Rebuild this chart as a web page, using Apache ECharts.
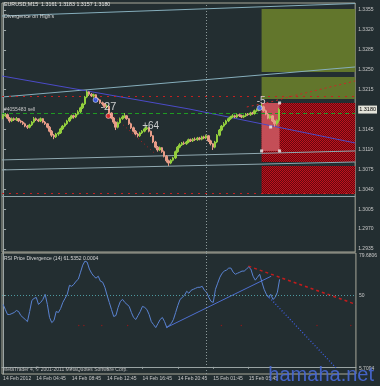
<!DOCTYPE html>
<html><head><meta charset="utf-8">
<script src="https://cdn.jsdelivr.net/npm/echarts@6/dist/echarts.min.js"></script>
<style>html,body{margin:0;padding:0;background:#232e31;}#c{width:380px;height:386px;}</style>
</head><body><div id="c"></div>
<script>
// ---------- DATA ----------
const opens=[1.3166,1.3169,1.3171,1.3165,1.3160,1.3164,1.3162,1.3164,1.3160,1.3158,
1.3155,1.3151,1.3149,1.3153,1.3158,1.3164,1.3162,1.3160,1.3164,1.3158,
1.3155,1.3149,1.3142,1.3135,1.3132,1.3137,1.3139,1.3146,1.3151,1.3155,
1.3160,1.3165,1.3169,1.3167,1.3172,1.3176,1.3183,1.3190,1.3202,1.3211,
1.3207,1.3204,1.3206,1.3199,1.3197,1.3192,1.3190,1.3185,1.3186,1.3174,
1.3165,1.3158,1.3149,1.3157,1.3164,1.3167,1.3169,1.3164,1.3155,1.3148,
1.3142,1.3137,1.3134,1.3139,1.3142,1.3146,1.3148,1.3142,1.3134,1.3123,
1.3114,1.3109,1.3113,1.3106,1.3098,1.3090,1.3086,1.3091,1.3095,1.3106,
1.3114,1.3118,1.3121,1.3120,1.3123,1.3127,1.3125,1.3128,1.3127,1.3130,
1.3128,1.3132,1.3130,1.3134,1.3125,1.3120,1.3114,1.3123,1.3135,1.3144,
1.3151,1.3155,1.3160,1.3164,1.3167,1.3169,1.3167,1.3171,1.3169,1.3167,
1.3169,1.3172,1.3171,1.3174,1.3173,1.3178,1.3179,1.3183,1.3185,1.3178,
1.3172,1.3165,1.3169,1.3160,1.3155,1.3161];
const closes=[1.3169,1.3171,1.3165,1.3160,1.3164,1.3162,1.3164,1.3160,1.3158,1.3155,
1.3151,1.3149,1.3153,1.3158,1.3164,1.3162,1.3160,1.3164,1.3158,1.3155,
1.3149,1.3142,1.3135,1.3132,1.3137,1.3139,1.3146,1.3151,1.3155,1.3160,
1.3165,1.3169,1.3167,1.3172,1.3176,1.3183,1.3190,1.3202,1.3211,1.3207,
1.3204,1.3206,1.3199,1.3197,1.3192,1.3190,1.3185,1.3186,1.3174,1.3165,
1.3158,1.3149,1.3157,1.3164,1.3167,1.3169,1.3164,1.3155,1.3148,1.3142,
1.3137,1.3134,1.3139,1.3142,1.3146,1.3148,1.3142,1.3134,1.3123,1.3114,
1.3109,1.3113,1.3106,1.3098,1.3090,1.3086,1.3091,1.3095,1.3106,1.3114,
1.3118,1.3121,1.3120,1.3123,1.3127,1.3125,1.3128,1.3127,1.3130,1.3128,
1.3132,1.3130,1.3134,1.3125,1.3120,1.3114,1.3123,1.3135,1.3144,1.3151,
1.3155,1.3160,1.3164,1.3167,1.3169,1.3167,1.3171,1.3169,1.3167,1.3169,
1.3172,1.3171,1.3174,1.3173,1.3178,1.3179,1.3183,1.3185,1.3178,1.3172,
1.3165,1.3169,1.3160,1.3155,1.3161,1.3180];
const highs=[1.3172,1.3174,1.3173,1.3167,1.3166,1.3166,1.3167,1.3165,1.3162,1.3160,
1.3157,1.3153,1.3155,1.3160,1.3167,1.3166,1.3164,1.3166,1.3165,1.3160,
1.3156,1.3151,1.3144,1.3137,1.3139,1.3141,1.3148,1.3153,1.3157,1.3162,
1.3167,1.3171,1.3171,1.3174,1.3179,1.3185,1.3192,1.3204,1.3214,1.3212,
1.3209,1.3208,1.3207,1.3201,1.3198,1.3194,1.3191,1.3189,1.3187,1.3175,
1.3167,1.3159,1.3159,1.3166,1.3170,1.3174,1.3170,1.3165,1.3157,1.3150,
1.3144,1.3139,1.3141,1.3144,1.3148,1.3151,1.3149,1.3143,1.3135,1.3125,
1.3116,1.3115,1.3114,1.3108,1.3100,1.3092,1.3093,1.3097,1.3108,1.3116,
1.3121,1.3123,1.3124,1.3125,1.3129,1.3129,1.3130,1.3131,1.3132,1.3132,
1.3134,1.3134,1.3136,1.3135,1.3127,1.3121,1.3125,1.3137,1.3146,1.3153,
1.3158,1.3162,1.3166,1.3169,1.3172,1.3171,1.3173,1.3173,1.3171,1.3171,
1.3174,1.3174,1.3176,1.3176,1.3180,1.3182,1.3186,1.3190,1.3187,1.3180,
1.3174,1.3171,1.3170,1.3162,1.3163,1.3183];
const lows=[1.3163,1.3167,1.3163,1.3157,1.3158,1.3160,1.3160,1.3158,1.3156,1.3153,
1.3149,1.3146,1.3147,1.3151,1.3156,1.3160,1.3158,1.3158,1.3156,1.3153,
1.3147,1.3140,1.3132,1.3128,1.3130,1.3134,1.3137,1.3144,1.3149,1.3153,
1.3158,1.3163,1.3164,1.3165,1.3170,1.3174,1.3181,1.3188,1.3200,1.3204,
1.3202,1.3201,1.3197,1.3194,1.3190,1.3187,1.3183,1.3182,1.3172,1.3163,
1.3155,1.3144,1.3147,1.3155,1.3162,1.3165,1.3162,1.3153,1.3146,1.3140,
1.3135,1.3131,1.3132,1.3137,1.3140,1.3144,1.3140,1.3132,1.3121,1.3112,
1.3106,1.3107,1.3104,1.3096,1.3087,1.3081,1.3084,1.3089,1.3093,1.3104,
1.3112,1.3116,1.3118,1.3118,1.3121,1.3123,1.3123,1.3125,1.3125,1.3126,
1.3126,1.3128,1.3128,1.3123,1.3117,1.3109,1.3112,1.3121,1.3133,1.3142,
1.3149,1.3153,1.3158,1.3162,1.3165,1.3165,1.3165,1.3167,1.3165,1.3165,
1.3167,1.3169,1.3169,1.3171,1.3171,1.3176,1.3177,1.3181,1.3176,1.3170,
1.3163,1.3163,1.3158,1.3150,1.3152,1.3157];
const rsi=[43.9,40.3,36.8,36.8,37.5,38.2,39.6,38.9,36.1,34.7,
33.3,31.8,38.9,46.7,48.1,48.8,43.9,45.3,47.4,51.0,
43.9,34.7,31.1,32.6,38.9,38.2,41.0,45.3,48.1,51.0,
57.3,56.6,58.0,60.2,61.6,66.5,71.5,74.3,73.6,68.7,
65.8,63.7,62.3,63.7,60.2,59.5,55.9,50.3,45.3,40.3,
35.4,36.1,41.8,46.0,47.4,45.3,43.9,42.5,38.2,34.7,
33.3,36.1,38.9,42.5,41.8,40.3,36.8,31.8,29.7,27.6,
30.4,33.3,34.7,31.8,27.6,29.0,30.4,33.3,38.2,43.2,
47.4,48.8,50.3,53.1,51.7,53.8,54.5,55.2,55.9,55.9,
56.6,53.8,52.4,48.8,46.0,45.3,54.5,58.8,63.0,65.8,
67.3,68.0,69.4,69.4,66.5,65.1,65.8,66.5,67.3,67.3,
68.7,70.1,68.7,63.7,60.9,63.0,65.1,59.5,54.5,51.0,
48.8,51.0,47.4,48.8,52.5,61.5];

const BARS=160;
const timeIdx=[0,15,31,47,63,79,95,111];
const timeLabels=['14 Feb 2012','14 Feb 04:45','14 Feb 08:45','14 Feb 12:45','14 Feb 16:45','14 Feb 20:45','15 Feb 01:45','15 Feb 05:45'];
const priceTicks=[1.3355,1.3320,1.3285,1.3250,1.3215,1.3180,1.3145,1.3110,1.3075,1.3040,1.3005,1.2970,1.2935];
const lastPrice=1.3180;
const rsiTickLabels=['79.6806','50','5.7094'];

// drawn objects (bar index, price)
const topLine=[[-0.5,1.33445],[159.5,1.33664]];
const upperChannel=[[-0.5,1.32021],[159.5,1.32549]];
const lowerChannel1=[[-0.5,1.30915],[159.5,1.31073]];
const lowerChannel2=[[-0.5,1.30739],[159.5,1.30879]];
const maLine=[[-0.5,1.32390],[84.2,1.31811],[159.5,1.31213]];
const redLevel=1.32039, orderLevel=1.31740, redLevel2=1.30326, grayLevel=1.30282;
const redArc=[[110.4,1.31846],[121.2,1.31934],[129.3,1.32021],[159.5,1.32303]];
const priceDivLine=[[50.4,1.31670],[68.5,1.31037]];
const greenZones=[[117.1,1.33568,159.5,1.32461],[117.1,1.32373,159.5,1.31986]];
const redZones=[[117.1,1.31916,159.5,1.30879],[117.1,1.30809,159.5,1.30317]];
const pinkZone=[117.1,1.31916,125.25,1.31073];
const handles=[[117.1,1.31073],[125.25,1.31073],[125.25,1.31916],[121.2,1.31494]];
const divText=['-27','+64','-5'];
const divIdx=[44.1,63,114.9];
const divPrice=[1.31846,1.31512,1.31954];
const divSize=[11,10,10];
const blueMarks=[[41.9,1.31969],[116.2,1.31828]];
const redMarks=[[47.7,1.31688]];
const sepIdx=92;
const rsiTrend=[[73.8,27.6],[121.2,63.7]];
const rsiDotted=[[119.4,50.3],[150.5,-0.7]];
const rsiRed=[[110.9,70.8],[159.5,43.9]];
const rsiDots=[[34.2,29],[36.5,29],[44.6,29],[56.3,29],[98.7,29],[107.7,29],[141.9,29],[157.2,29]];

// ---------- CHART ----------
const FONT='Liberation Sans';
const TXT='#c8c8c8';
const AX='#9aa4a4';
const cats=Array.from({length:BARS},(_,i)=>'b'+i);
const candleData=opens.map((o,i)=>[o,closes[i],lows[i],highs[i]]);

const pc=document.createElement('canvas');pc.width=2;pc.height=2;
const g=pc.getContext('2d');
g.fillStyle='#640810';g.fillRect(0,0,2,2);
g.fillStyle='#c0121c';g.fillRect(0,0,1,1);g.fillRect(1,1,1,1);
const redPattern={image:pc,repeat:'repeat'};

function ln(data,color,type,width,xi,yi,z){
  return {type:'line',xAxisIndex:xi,yAxisIndex:yi,data:data,showSymbol:false,symbol:'none',silent:true,z:z||3,
    lineStyle:{color:color,type:type,width:width||1}};
}
const zoneArea=[];
greenZones.forEach(zn=>zoneArea.push([{xAxis:zn[0],yAxis:zn[1],itemStyle:{color:'#62762c'}},{xAxis:zn[2],yAxis:zn[3]}]));
redZones.forEach(zn=>zoneArea.push([{xAxis:zn[0],yAxis:zn[1],itemStyle:{color:redPattern}},{xAxis:zn[2],yAxis:zn[3]}]));
zoneArea.push([{xAxis:pinkZone[0],yAxis:pinkZone[1],itemStyle:{color:'#c44e57'}},{xAxis:pinkZone[2],yAxis:pinkZone[3]}]);

const option={
  backgroundColor:'#232e31',
  animation:false,
  textStyle:{fontFamily:FONT},
  title:[
    {text:'EURUSD,M15  1.3161 1.3183 1.3157 1.3180',left:4,top:2,padding:0,textStyle:{color:'#e6e6e6',fontSize:5.3,fontWeight:'normal',fontFamily:FONT}},
    {text:"Divergence on High's",left:4,top:14,padding:0,textStyle:{color:'#d6d6d6',fontSize:5.3,fontWeight:'normal',fontFamily:FONT}},
    {text:'RSI Price Divergence (14) 61.5352 0.0004',left:4,top:256,padding:0,textStyle:{color:'#d6d6d6',fontSize:5,fontWeight:'normal',fontFamily:FONT}},
    {text:'MetaTrader 4, © 2001-2011 MetaQuotes Software Corp.',left:3,top:367,padding:0,textStyle:{color:'#bdbdbd',fontSize:5,fontWeight:'normal',fontFamily:FONT}},
    {text:'hamaha.net',right:6,top:365,padding:0,textStyle:{color:'rgba(72,104,210,0.92)',fontSize:20,fontWeight:'normal',fontFamily:FONT}}
  ],
  grid:[
    {left:2,top:3,width:355,height:249,show:true,borderColor:'#a9a89a',borderWidth:1},
    {left:2,top:253,width:355,height:121,show:true,borderColor:'#a9a89a',borderWidth:1}
  ],
  xAxis:[
    {type:'category',gridIndex:0,data:cats,boundaryGap:true,show:false},
    {type:'value',gridIndex:0,min:-0.5,max:BARS-0.5,show:false},
    {type:'category',gridIndex:1,data:cats,boundaryGap:true,
      axisLine:{show:true,lineStyle:{color:AX}},
      axisTick:{show:true,interval:(i)=>timeIdx.includes(i),alignWithLabel:true,length:2,lineStyle:{color:AX}},
      axisLabel:{interval:(i)=>timeIdx.includes(i),formatter:(v,i)=>{const k=timeIdx.indexOf(i);return k>=0?timeLabels[k]:'';},
        align:'left',color:TXT,fontSize:5,fontFamily:FONT,margin:2}},
    {type:'value',gridIndex:1,min:-0.5,max:BARS-0.5,show:false}
  ],
  yAxis:[
    {type:'value',gridIndex:0,position:'right',min:1.29297,max:1.33673,scale:true,splitLine:{show:false},
      axisLine:{show:true,lineStyle:{color:AX}},
      axisTick:{show:true,customValues:priceTicks,length:3,lineStyle:{color:AX}},
      axisLabel:{customValues:priceTicks,color:TXT,fontSize:5,fontFamily:FONT,margin:3,
        formatter:(v)=>Math.abs(v-lastPrice)<1e-7?'{box|'+v.toFixed(4)+'}':v.toFixed(4),
        rich:{box:{backgroundColor:'#e4e4da',color:'#000',fontSize:5.5,fontFamily:FONT,padding:[1,1,1,1]}}}},
    {type:'value',gridIndex:1,position:'right',min:-5,max:80,splitLine:{show:false},
      axisLine:{show:true,lineStyle:{color:AX}},
      axisTick:{show:true,customValues:[50],length:3,lineStyle:{color:AX}},
      axisLabel:{customValues:[77.9,50,-1.4],color:TXT,fontSize:5,fontFamily:FONT,margin:3,
        formatter:(v)=>v>60?rsiTickLabels[0]:(v===50?rsiTickLabels[1]:rsiTickLabels[2])}}
  ],
  series:[
    // zones
    {type:'line',xAxisIndex:1,yAxisIndex:0,data:[],silent:true,z:1,
      markArea:{silent:true,data:zoneArea}},
    // levels & vertical separator
    {type:'line',xAxisIndex:1,yAxisIndex:0,data:[],silent:true,z:2,
      markLine:{silent:true,symbol:'none',animation:false,precision:6,
        data:[
          {yAxis:redLevel,lineStyle:{color:'#c42020',type:[2,5],width:1},label:{show:false}},
          {yAxis:orderLevel,lineStyle:{color:'#1f9a22',type:[4,3],width:1},
            label:{show:true,position:'insideStartTop',formatter:'#4055483 sell',color:TXT,fontSize:5,fontFamily:FONT,distance:[2,1]}},
          {yAxis:redLevel2,lineStyle:{color:'#c42020',type:[2,5],width:1},label:{show:false}},
          {yAxis:grayLevel,lineStyle:{color:'#8fa4a9',type:'solid',width:1},label:{show:false}},
          {xAxis:sepIdx,lineStyle:{color:'#8c9a9a',type:[1,2],width:1},label:{show:false}}
        ]}},
    ln(topLine,'#86aebc','solid',1,1,0),
    ln(upperChannel,'#86aebc','solid',1,1,0),
    ln(lowerChannel1,'#8fa8b0','solid',1,1,0),
    ln(lowerChannel2,'#8fa8b0','solid',1,1,0),
    ln(maLine,'#4b4bc8','solid',1,1,0),
    ln(redArc,'#c82828',[2,3],1,1,0),
    ln(priceDivLine,'#b82020',[1,3],1,1,0),
    {type:'candlestick',xAxisIndex:0,yAxisIndex:0,data:candleData,barWidth:2,z:5,silent:true,
      itemStyle:{color:'#93cf3e',color0:'#e89c88',borderColor:'#93cf3e',borderColor0:'#e89c88',borderWidth:1}},
    {type:'scatter',xAxisIndex:1,yAxisIndex:0,data:blueMarks,symbol:'circle',symbolSize:5,z:6,silent:true,
      itemStyle:{color:'#3b5cff',borderColor:'#ffffff',borderWidth:0.6}},
    {type:'scatter',xAxisIndex:1,yAxisIndex:0,data:redMarks,symbol:'circle',symbolSize:5,z:6,silent:true,
      itemStyle:{color:'#ff2a2a',borderColor:'#ffffff',borderWidth:0.6}},
    {type:'scatter',xAxisIndex:1,yAxisIndex:0,data:handles,symbol:'rect',symbolSize:3,z:6,silent:true,
      itemStyle:{color:'#f0f0f0'}},
    {type:'scatter',xAxisIndex:1,yAxisIndex:0,silent:true,z:7,symbolSize:0,
      data:divText.map((t,i)=>({value:[divIdx[i],divPrice[i]],name:t,
        label:{show:true,position:'right',distance:0,formatter:t,color:'#f2f2f2',fontSize:divSize[i],fontFamily:FONT}}))},
    // RSI panel
    {type:'line',xAxisIndex:2,yAxisIndex:1,data:rsi,showSymbol:false,symbol:'none',silent:true,z:4,
      lineStyle:{color:'#5a83d2',width:1},
      markLine:{silent:true,symbol:'none',precision:4,data:[{yAxis:50,lineStyle:{color:'#4e9aa0',type:[1,2],width:1},label:{show:false}}]}},
    {type:'line',xAxisIndex:3,yAxisIndex:1,data:[],silent:true,
      markLine:{silent:true,symbol:'none',data:[{xAxis:sepIdx,lineStyle:{color:'#8c9a9a',type:[1,2],width:1},label:{show:false}}]}},
    ln(rsiTrend,'#4d6fd0','solid',1,3,1),
    ln(rsiDotted,'#3f5fe0',[1,2],1.3,3,1),
    ln(rsiRed,'#c41c1c',[3,3],1.5,3,1),
    {type:'scatter',xAxisIndex:3,yAxisIndex:1,data:rsiDots,symbolSize:1.5,silent:true,itemStyle:{color:'#a01818'}}
  ]
};
echarts.init(document.getElementById('c'),null,{renderer:'canvas'}).setOption(option);
</script>
</body></html>
